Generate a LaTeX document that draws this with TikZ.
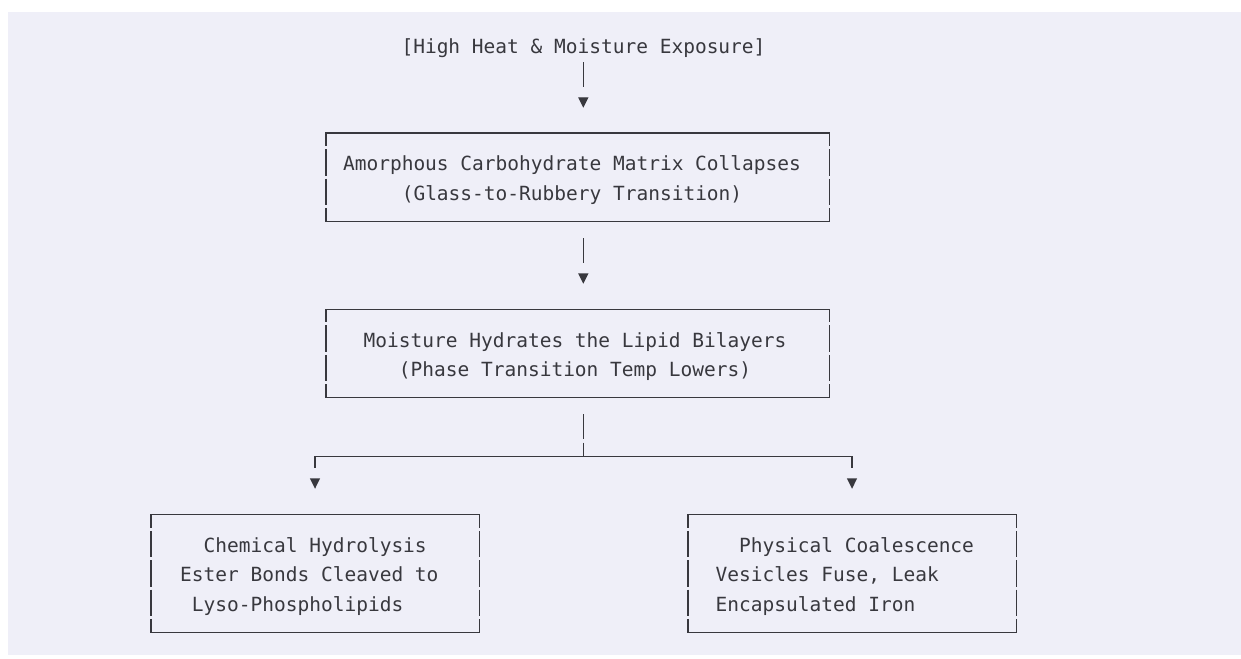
\documentclass[tikz,border=0pt]{standalone}
\usepackage{fontspec}
\setmonofont{DejaVu Sans Mono}
\usetikzlibrary{arrows.meta}

\definecolor{panelbg}{RGB}{239,239,248}
\definecolor{ink}{RGB}{56,56,62}

% every text row is one grid row: 29.35pt tall, baseline 8pt below its middle
\newcommand\rowstrut{\rule[-6.675pt]{0pt}{29.35pt}}
\newcommand\ind[1]{\hphantom{#1}}

% the four edges of a frame node; side edges break at every text row
\newcommand\boxedges[1]{%
  \draw[hedge] (#1.north west) -- (#1.north east);
  \draw[hedge] (#1.south west) -- (#1.south east);
  \draw[vedge] (#1.north west) -- (#1.south west);
  \draw[vedge] (#1.north east) -- (#1.south east);
}

\begin{document}
\begin{tikzpicture}[
  x=1pt, y=-1pt,
  txt/.style={font=\ttfamily\fontsize{19.5pt}{29.35pt}\selectfont, text=ink, inner sep=0pt},
  frame/.style={rectangle, inner sep=0pt, draw=none},
  hedge/.style={draw=ink, line width=1.4pt, line cap=rect},
  vedge/.style={draw=ink, line width=1.4pt, dash pattern=on 26.35pt off 3pt, dash phase=13.175pt},
  wire/.style={draw=ink, line width=1.4pt},
  flow/.style={wire, -{Triangle[length=10.5pt,width=10pt]}, dash pattern=on 25pt off 20pt},
]
\useasboundingbox (0,0) rectangle (1241,658);
\fill[white] (0,0) rectangle (1241,658);
\fill[panelbg] (8,12) rectangle (1241,655);

% frames
\node[frame, minimum width=503.5pt, minimum height=88.05pt] (b1) at (577.75,177.375) {};
\node[frame, minimum width=503.5pt, minimum height=88.05pt] (b2) at (577.75,353.475) {};
\node[frame, minimum width=328pt, minimum height=117.4pt] (b3) at (315,573.6) {};
\node[frame, minimum width=328pt, minimum height=117.4pt] (b4) at (852,573.6) {};
\boxedges{b1}
\boxedges{b2}
\boxedges{b3}
\boxedges{b4}

% texts
\node[txt, anchor=north] (hdr) at (583.5,30.625) {\rowstrut[High Heat \& Moisture Exposure]};
\node[txt, anchor=north, align=center] (t1) at (572,148.025)
  {\rowstrut Amorphous Carbohydrate Matrix Collapses\\\rowstrut(Glass-to-Rubbery Transition)};
\node[txt, anchor=north, align=center] (t2) at (575,324.125)
  {\rowstrut Moisture Hydrates the Lipid Bilayers\\\rowstrut(Phase Transition Temp Lowers)};
\node[txt, anchor=north west, align=left] (t3) at (180,529.575)
  {\rowstrut\ind{xx}Chemical Hydrolysis\\\rowstrut Ester Bonds Cleaved to\\\rowstrut\ind{x}Lyso-Phospholipids};
\node[txt, anchor=north west, align=left] (t4) at (715.5,529.575)
  {\rowstrut\ind{xx}Physical Coalescence\\\rowstrut Vesicles Fuse, Leak\\\rowstrut Encapsulated Iron};

% connectors
\coordinate (spine) at (583.3,0);
\coordinate (jc) at (583.3,456.2);
\coordinate (jl) at (315,456.2);
\coordinate (jr) at (852,456.2);

\draw[flow, shorten <=2pt, shorten >=25.35pt] (hdr.south -| spine) -- (b1.north -| spine);
\draw[flow, shorten <=16.6pt, shorten >=25.45pt] (b1.south -| spine) -- (b2.north -| spine);
\draw[wire, dash pattern=on 25pt off 3.3pt on 40pt off 1pt, shorten <=16.65pt] (b2.south -| spine) -- (jc);
\draw[wire, line cap=rect] (jl) -- (jr);
\draw[flow, dash pattern=on 12pt off 20pt, shorten >=25.9pt] (jl) -- (b3.north -| jl);
\draw[flow, dash pattern=on 12pt off 20pt, shorten >=25.9pt] (jr) -- (b4.north -| jr);
\end{tikzpicture}
\end{document}
